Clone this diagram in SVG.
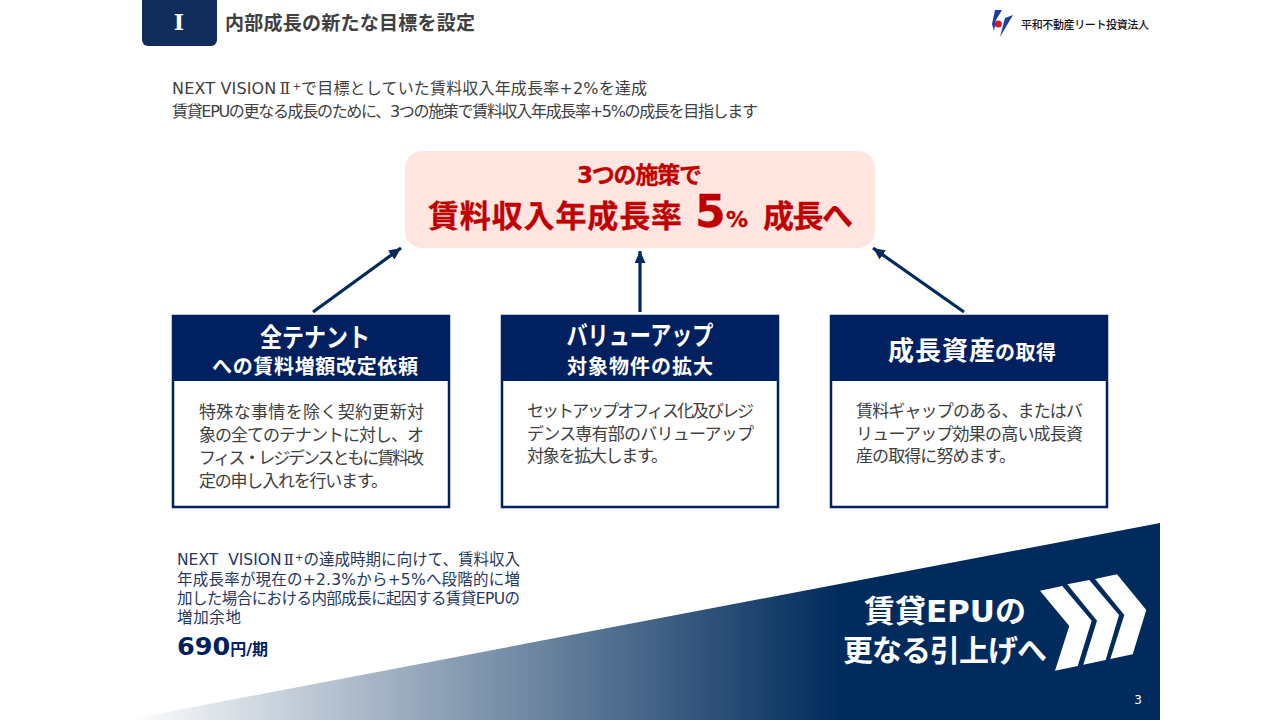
<svg xmlns="http://www.w3.org/2000/svg" width="1280" height="720" viewBox="0 0 1280 720">
<style>
text{font-family:"DejaVu Sans","Noto Sans CJK JP",sans-serif}
.rn{font-family:"DejaVu Serif",serif}
.body{font-size:16px;fill:#404040}
.card{font-size:17px;fill:#404040}
.blue{font-size:15.5px;fill:#1f3864}
.h1{font-weight:700;fill:#fff;text-anchor:middle}
.red{font-weight:700;fill:#c00000;stroke:#c00000;stroke-width:.3}
.cardbox{fill:#fff;stroke:#002060;stroke-width:2.5}
.cardhead{fill:#002060}
.arrow{stroke:#002b5c;stroke-width:3.2;fill:none;marker-end:url(#ah)}
</style>
<defs>
<marker id="ah" markerUnits="userSpaceOnUse" markerWidth="14" markerHeight="12" refX="12" refY="5.5" orient="auto"><path d="M0 0L12 5.5L0 11Z" fill="#002b5c"/></marker>
<linearGradient id="wedge" gradientUnits="userSpaceOnUse" x1="125" y1="0" x2="840" y2="0"><stop offset="0" stop-color="#ffffff"/><stop offset="1" stop-color="#002b5c"/></linearGradient>
</defs>
<rect width="1280" height="720" fill="#fff"/>
<g id="header">
<path d="M142 0H217V40a6 6 0 0 1-6 6H148a6 6 0 0 1-6-6Z" fill="#122d5c"/>
<text x="179" y="30" font-size="22" font-weight="700" fill="#fff" text-anchor="middle" class="rn">Ⅰ</text>
<text x="225" y="30" font-size="19" font-weight="700" fill="#404040" textLength="250">内部成長の新たな目標を設定</text>
</g>
<g id="logo">
<path d="M995 10L1002 10L996 20L994 31L992 24Z" fill="#1f3f9c"/>
<path d="M1013 15L1005 18L1000 37Z" fill="#1f3f9c"/>
<circle cx="998.3" cy="24" r="3.5" fill="#e01030"/>
<text x="1021" y="29" font-size="11" font-weight="500" fill="#111" textLength="128">平和不動産リート投資法人</text>
</g>
<g id="intro">
<text x="172" y="94" class="body" textLength="475">NEXT VISION<tspan class="rn" dx="3">Ⅱ</tspan><tspan font-size="10" dx="2" dy="-4">+</tspan><tspan dy="4">で目標としていた賃料収入年成長率+2%を達成</tspan></text>
<text x="172" y="117" class="body" textLength="586">賃貸EPUの更なる成長のために、3つの施策で賃料収入年成長率+5%の成長を目指します</text>
</g>
<g id="goal">
<rect x="405" y="151" width="470" height="97" rx="17" fill="#fee5df"/>
<text x="577" y="183" class="red" font-size="23" textLength="125">3つの施策で</text>
<text x="428" y="227" class="red" font-size="31" textLength="254">賃料収入年成長率</text>
<text x="695" y="227" class="red" font-size="44">5</text>
<text x="726" y="227" class="red" font-size="22">%</text>
<text x="763" y="227" class="red" font-size="31" textLength="90">成長へ</text>
</g>
<g id="connectors">
<path class="arrow" d="M313 312L401 248"/>
<path class="arrow" d="M640 312V251"/>
<path class="arrow" d="M964 312L873 248"/>
</g>
<g id="card1">
<rect class="cardbox" x="173" y="316" width="276" height="191"/>
<rect class="cardhead" x="172" y="316" width="278" height="65"/>
<text x="315" y="347" class="h1" font-size="26" textLength="110" lengthAdjust="spacingAndGlyphs">全テナント</text>
<text x="315" y="374" class="h1" font-size="20" textLength="206">への賃料増額改定依頼</text>
<text x="199" y="418" class="card" textLength="225">特殊な事情を除く契約更新対</text>
<text x="199" y="441" class="card" textLength="225">象の全てのテナントに対し、オ</text>
<text x="199" y="464" class="card" textLength="225">フィス・レジデンスともに賃料改</text>
<text x="199" y="487" class="card" textLength="189">定の申し入れを行います。</text>
</g>
<g id="card2">
<rect class="cardbox" x="502" y="316" width="276" height="191"/>
<rect class="cardhead" x="501" y="316" width="278" height="65"/>
<text x="640" y="345" class="h1" font-size="26" textLength="147" lengthAdjust="spacingAndGlyphs">バリューアップ</text>
<text x="640" y="374" class="h1" font-size="20" textLength="146">対象物件の拡大</text>
<text x="527" y="417" class="card" textLength="227">セットアップオフィス化及びレジ</text>
<text x="527" y="440" class="card" textLength="227">デンス専有部のバリューアップ</text>
<text x="527" y="462" class="card" textLength="141">対象を拡大します。</text>
</g>
<g id="card3">
<rect class="cardbox" x="831" y="316" width="276" height="191"/>
<rect class="cardhead" x="830" y="316" width="278" height="65"/>
<text x="888" y="360" font-size="26" font-weight="700" fill="#fff" textLength="107">成長資産</text>
<text x="995" y="360" font-size="20" font-weight="700" fill="#fff" textLength="61">の取得</text>
<text x="856" y="417" class="card" textLength="227">賃料ギャップのある、またはバ</text>
<text x="856" y="440" class="card" textLength="227">リューアップ効果の高い成長資</text>
<text x="856" y="462" class="card" textLength="160">産の取得に努めます。</text>
</g>
<g id="note">
<text x="177" y="565" class="blue" textLength="343">NEXT&#160;&#160;VISION<tspan class="rn" dx="2">Ⅱ</tspan><tspan font-size="10" dx="1" dy="-4">+</tspan><tspan dy="4">の達成時期に向けて、賃料収入</tspan></text>
<text x="177" y="585" class="blue" textLength="343">年成長率が現在の+2.3%から+5%へ段階的に増</text>
<text x="177" y="604" class="blue" textLength="343">加した場合における内部成長に起因する賃貸EPUの</text>
<text x="177" y="623" class="blue" textLength="64">増加余地</text>
<text x="177" y="655" font-size="25.5" font-weight="700" fill="#002060">690<tspan font-size="16">円/期</tspan></text>
</g>
<g id="wedge-banner">
<path d="M125 720L1160 523V720Z" fill="url(#wedge)"/>
<text x="945" y="622" class="h1" font-size="31" textLength="162">賃貸EPUの</text>
<text x="945" y="661" class="h1" font-size="30" textLength="204">更なる引上げへ</text>
<g fill="#fff">
<path d="M1040 590.7L1062.3 586L1091.7 620.7L1077.7 666L1055 670.7L1069.3 626Z"/>
<path d="M1067.3 584.3L1089.3 580L1119 615L1105.7 660L1083.3 664.7L1097 620.7Z"/>
<path d="M1095 579L1117 574.3L1146.3 610L1132.7 654.3L1110.3 659L1124.3 615Z"/>
</g>
<text x="1138" y="704" font-size="12" fill="#fff" text-anchor="middle">3</text>
</g>
</svg>
